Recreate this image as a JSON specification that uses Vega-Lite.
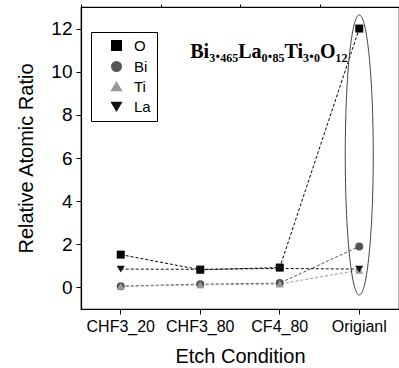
{
  "$schema": "https://vega.github.io/schema/vega-lite/v6.json",
  "width": 318,
  "height": 302,
  "autosize": {"type": "none"},
  "padding": {"left": 81, "top": 7, "right": 0, "bottom": 59},
  "background": "white",
  "datasets": {
    "ratio": [
      {"element": "O", "cond": "CHF3_20", "value": 1.52},
      {"element": "O", "cond": "CHF3_80", "value": 0.82},
      {"element": "O", "cond": "CF4_80", "value": 0.92},
      {"element": "O", "cond": "Origianl", "value": 12.0},
      {"element": "Bi", "cond": "CHF3_20", "value": 0.06},
      {"element": "Bi", "cond": "CHF3_80", "value": 0.15},
      {"element": "Bi", "cond": "CF4_80", "value": 0.2},
      {"element": "Bi", "cond": "Origianl", "value": 1.9},
      {"element": "Ti", "cond": "CHF3_20", "value": 0.05},
      {"element": "Ti", "cond": "CHF3_80", "value": 0.12},
      {"element": "Ti", "cond": "CF4_80", "value": 0.16},
      {"element": "Ti", "cond": "Origianl", "value": 0.8},
      {"element": "La", "cond": "CHF3_20", "value": 0.85},
      {"element": "La", "cond": "CHF3_80", "value": 0.84},
      {"element": "La", "cond": "CF4_80", "value": 0.88},
      {"element": "La", "cond": "Origianl", "value": 0.85}
    ],
    "ellipse": [{"cond": "Origianl", "value": 6.14}],
    "label": [{"cond": "CHF3_80", "value": 10.65, "text": "Bi₃.₄₆₅La₀.₈₅Ti₃.₀O₁₂"}]
  },
  "layer": [
    {
      "data": {"name": "ratio"},
      "mark": {"type": "line", "strokeDash": [3, 2], "strokeWidth": 1},
      "encoding": {
        "x": {"field": "cond", "type": "nominal", "sort": ["CHF3_20", "CHF3_80", "CF4_80", "Origianl"],
          "scale": {"type": "band", "paddingInner": 0, "paddingOuter": 0, "domain": ["CHF3_20", "CHF3_80", "CF4_80", "Origianl"]},
          "axis": {"title": "Etch Condition", "labelAngle": 0, "labelFontSize": 16, "labelColor": "black", "labelPadding": 4,
            "tickSize": 5, "tickColor": "black", "domainColor": "black", "domainWidth": 1.2, "tickWidth": 1,
            "titleFontSize": 20, "titleFontWeight": "normal", "titleColor": "black", "titlePadding": 12}},
        "y": {"field": "value", "type": "quantitative",
          "scale": {"domain": [-1, 13], "nice": false, "zero": false},
          "axis": {"title": "Relative Atomic Ratio", "values": [0, 2, 4, 6, 8, 10, 12], "grid": false,
            "tickSize": 5, "tickWidth": 1,
            "labelFontSize": 19, "labelColor": "black", "labelPadding": 4, "tickColor": "black", "domainColor": "black", "domainWidth": 1.2,
            "titleFontSize": 20, "titleFontWeight": "normal", "titleColor": "black", "titlePadding": 14}},
        "color": {"field": "element", "type": "nominal",
          "scale": {"domain": ["O", "Bi", "Ti", "La"], "range": ["#000000", "#555555", "#999999", "#111111"]}}
      }
    },
    {
      "data": {"name": "ratio"},
      "mark": {"type": "point", "filled": true, "opacity": 1, "size": 64},
      "encoding": {
        "x": {"field": "cond", "type": "nominal", "sort": ["CHF3_20", "CHF3_80", "CF4_80", "Origianl"],
          "scale": {"type": "band", "paddingInner": 0, "paddingOuter": 0, "domain": ["CHF3_20", "CHF3_80", "CF4_80", "Origianl"]},
          "axis": null},
        "y": {"field": "value", "type": "quantitative", "scale": {"domain": [-1, 13], "nice": false, "zero": false},
          "axis": {"title": null, "values": [-1, 1, 3, 5, 7, 9, 11, 13], "labels": false, "domain": false, "grid": false,
            "tickSize": 3, "tickWidth": 1, "tickColor": "black"}},
        "color": {"field": "element", "type": "nominal",
          "scale": {"domain": ["O", "Bi", "Ti", "La"], "range": ["#000000", "#555555", "#999999", "#111111"]}},
        "shape": {"field": "element", "type": "nominal",
          "scale": {"domain": ["O", "Bi", "Ti", "La"], "range": ["square", "circle", "triangle-up", "triangle-down"]}}
      }
    },
    {
      "data": {"name": "ellipse"},
      "mark": {"type": "point", "shape": "M0,-1A0.1,1 0 1,1 0,1A0.1,1 0 1,1 0,-1Z", "size": 78400, "filled": false,
        "stroke": "#444444", "strokeWidth": 1, "opacity": 1},
      "encoding": {
        "x": {"field": "cond", "type": "nominal", "sort": ["CHF3_20", "CHF3_80", "CF4_80", "Origianl"],
          "scale": {"type": "band", "paddingInner": 0, "paddingOuter": 0, "domain": ["CHF3_20", "CHF3_80", "CF4_80", "Origianl"]},
          "axis": {"title": null, "labels": false, "domain": false, "tickBand": "extent", "tickSize": 3, "tickColor": "black", "tickWidth": 1}},
        "y": {"field": "value", "type": "quantitative", "scale": {"domain": [-1, 13], "nice": false, "zero": false}, "axis": null}
      }
    },
    {
      "data": {"name": "label"},
      "mark": {"type": "text", "align": "left", "baseline": "alphabetic", "dx": -10, "font": "Liberation Serif", "fontWeight": "bold", "fontSize": 20, "color": "black"},
      "encoding": {
        "x": {"field": "cond", "type": "nominal", "sort": ["CHF3_20", "CHF3_80", "CF4_80", "Origianl"],
          "scale": {"type": "band", "paddingInner": 0, "paddingOuter": 0, "domain": ["CHF3_20", "CHF3_80", "CF4_80", "Origianl"]},
          "axis": null},
        "y": {"field": "value", "type": "quantitative", "scale": {"domain": [-1, 13], "nice": false, "zero": false}, "axis": null},
        "text": {"field": "text"}
      }
    }
  ],
  "resolve": {"axis": {"x": "independent", "y": "independent"}},
  "config": {
    "view": {"stroke": "black", "strokeWidth": 1.2},
    "font": "Liberation Sans",
    "legend": {"title": null, "orient": "none", "legendX": 10, "legendY": 25, "labelFontSize": 15, "labelColor": "black",
      "strokeColor": "black", "fillColor": "white", "padding": 6, "rowPadding": 4, "symbolOffset": 12, "labelOffset": 10, "symbolSize": 90}
  }
}
